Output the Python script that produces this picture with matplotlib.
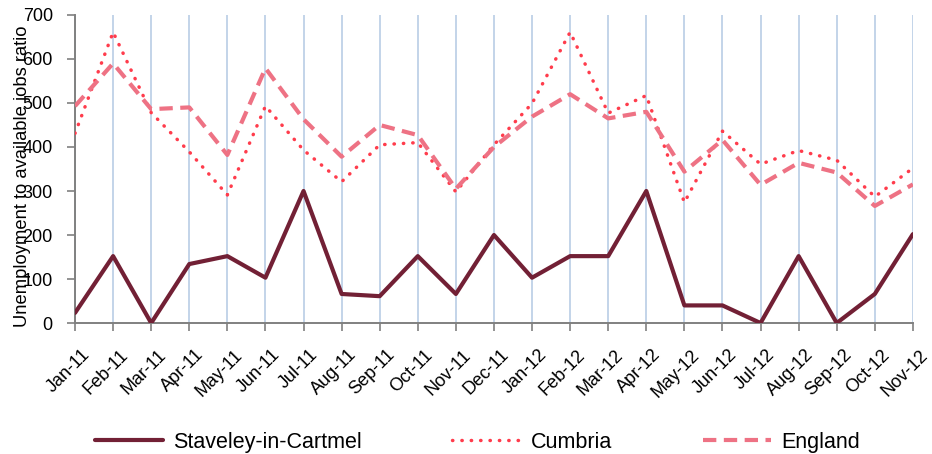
import matplotlib
matplotlib.use("Agg")
import matplotlib.pyplot as plt
from matplotlib.transforms import ScaledTranslation

plt.rcParams["font.family"] = ["Liberation Sans", "DejaVu Sans"]

# monthly unemployment to available jobs ratio
months = ["Jan-11", "Feb-11", "Mar-11", "Apr-11", "May-11", "Jun-11", "Jul-11",
          "Aug-11", "Sep-11", "Oct-11", "Nov-11", "Dec-11", "Jan-12", "Feb-12",
          "Mar-12", "Apr-12", "May-12", "Jun-12", "Jul-12", "Aug-12", "Sep-12",
          "Oct-12", "Nov-12"]
staveley = [23, 152, 0, 134, 152, 103, 300, 66, 61, 152, 66, 200, 103, 152,
            152, 300, 40, 40, 0, 152, 0, 66, 202]
cumbria = [431, 661, 478, 389, 291, 493, 393, 321, 405, 410, 298, 405, 499, 661,
           477, 517, 274, 436, 361, 392, 370, 287, 352]
england = [493, 590, 486, 490, 382, 579, 463, 378, 450, 427, 305, 400, 469, 520,
           465, 480, 344, 416, 314, 364, 342, 266, 315]

fig = plt.figure(figsize=(9.32, 4.54), dpi=100)
ax = fig.add_axes([0.0805, 0.2885, 0.899, 0.6785])

x = list(range(len(months)))
ax.plot(x, staveley, color="#722035", lw=3.0, label="Staveley-in-Cartmel",
        solid_capstyle="round", zorder=3)
ax.plot(x, cumbria, color="#FF3C4C", lw=2.5, linestyle=(0, (0.1, 2.6)),
        dash_capstyle="round", label="Cumbria", zorder=3)
ax.plot(x, england, color="#EE7284", lw=3.0, linestyle=(0, (3.2, 1.8)),
        label="England", zorder=3)

ax.set_xlim(0, len(months) - 1)
ax.set_ylim(0, 700)
ax.set_yticks(range(0, 701, 100))
ax.set_xticks(x)
ax.set_xticklabels(months, rotation=45, ha="right", va="center",
                   rotation_mode="anchor")
ax.tick_params(axis="both", labelsize=13, color="#808080", length=6, width=1.2)
ax.tick_params(axis="x", pad=0)
ax.tick_params(axis="y", pad=10)
shift = ScaledTranslation(12 / 100, -21 / 100, fig.dpi_scale_trans)
for lbl in ax.get_xticklabels():
    lbl.set_transform(lbl.get_transform() + shift)
ax.grid(axis="x", color="#B9CDE5", lw=1.2)
ax.set_axisbelow(True)

for side in ["top", "right"]:
    ax.spines[side].set_visible(False)
for side in ["left", "bottom"]:
    ax.spines[side].set_color("#808080")
    ax.spines[side].set_linewidth(1.4)

ax.set_ylabel("Unemployment to available jobs ratio", fontsize=13.2)
ax.yaxis.set_label_coords(-0.052, 0.475)

fig.legend(loc="lower center", bbox_to_anchor=(0.512, -0.04), ncol=3,
           frameon=False, fontsize=15.5, handlelength=3.2, columnspacing=4.2,
           handletextpad=0.45)

fig.savefig("out.png", dpi=100)
